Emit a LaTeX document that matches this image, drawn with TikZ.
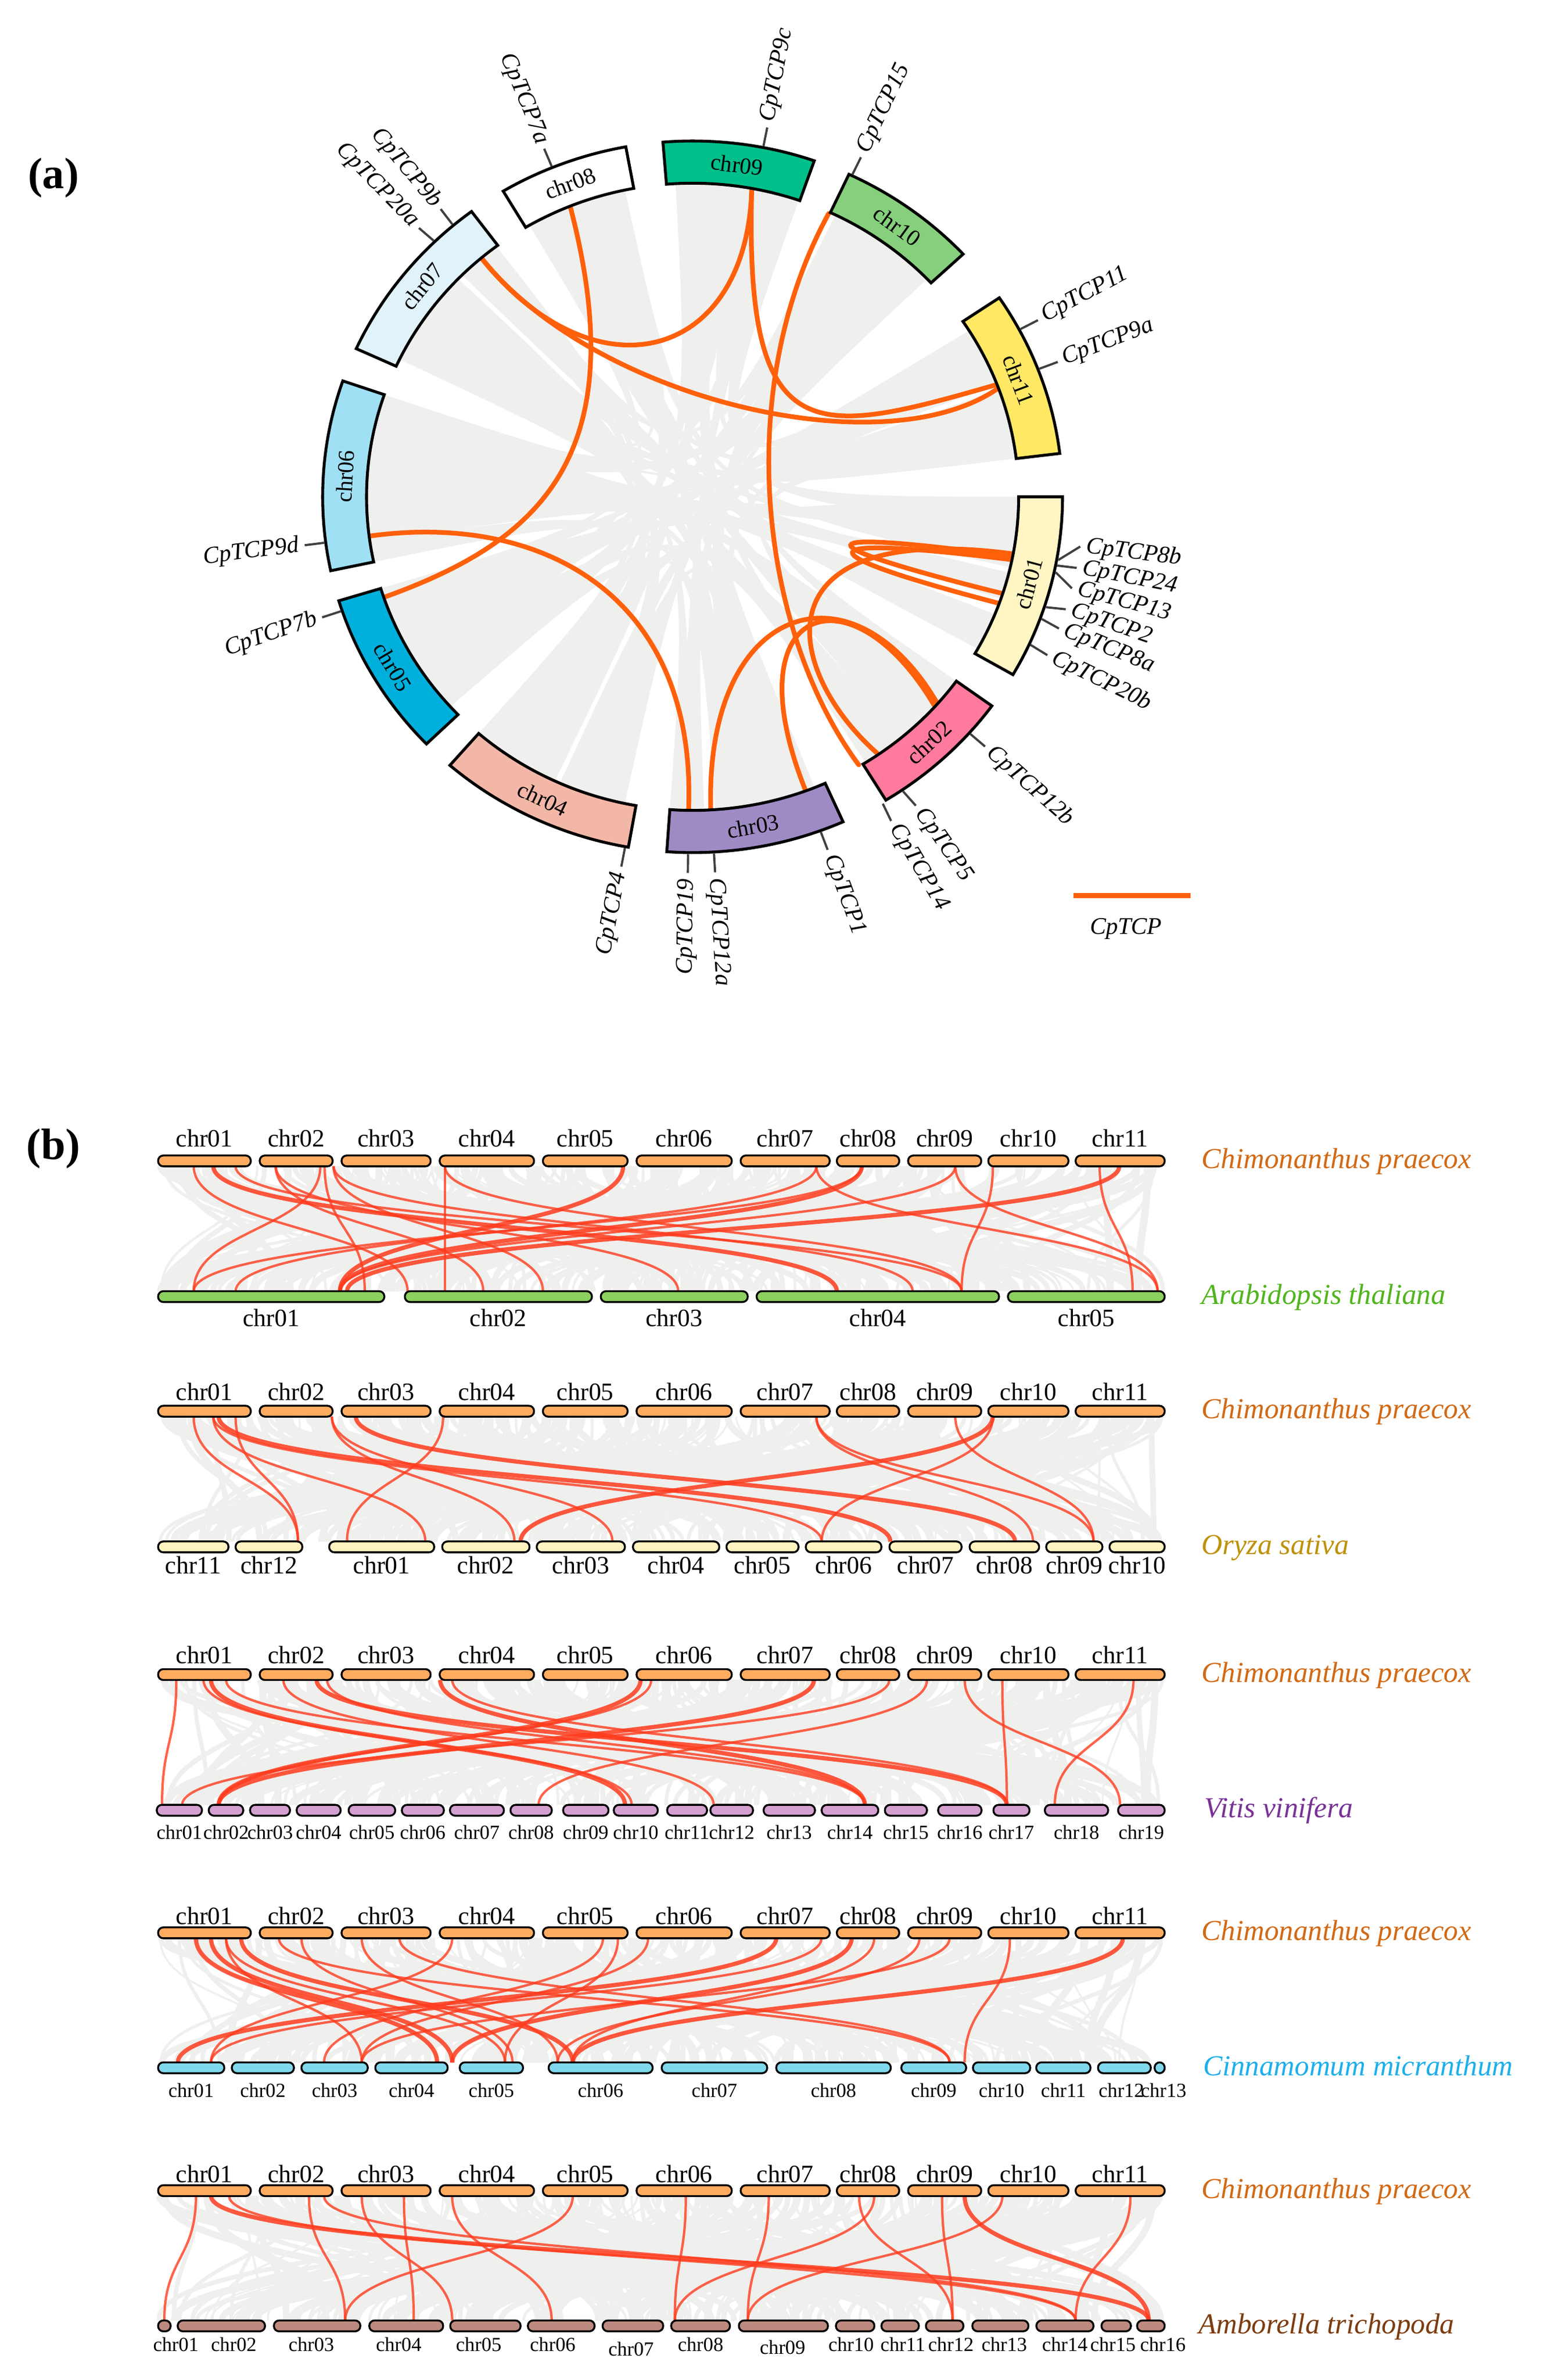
\documentclass[tikz,border=0pt]{standalone}
\usepackage{fontspec}
\setmainfont{Liberation Serif}
\definecolor{c01}{RGB}{255,246,196}
\definecolor{c02}{RGB}{255,122,156}
\definecolor{c03}{RGB}{158,139,196}
\definecolor{c04}{RGB}{243,183,168}
\definecolor{c05}{RGB}{0,176,220}
\definecolor{c06}{RGB}{160,224,244}
\definecolor{c07}{RGB}{224,242,250}
\definecolor{c08}{RGB}{255,255,255}
\definecolor{c09}{RGB}{0,191,138}
\definecolor{c10}{RGB}{134,207,124}
\definecolor{c11}{RGB}{255,232,100}
\definecolor{linkc}{RGB}{255,96,10}
\definecolor{ribc}{RGB}{239,239,237}
\definecolor{tickc}{RGB}{64,64,64}
\definecolor{redc}{RGB}{255,60,30}
\definecolor{cpbar}{RGB}{255,172,96}
\definecolor{atbar}{RGB}{140,208,96}
\definecolor{osbar}{RGB}{255,243,192}
\definecolor{vvbar}{RGB}{212,160,208}
\definecolor{cmbar}{RGB}{128,216,236}
\definecolor{ambar}{RGB}{188,138,126}
\definecolor{cptext}{RGB}{210,105,20}
\definecolor{attext}{RGB}{80,180,30}
\definecolor{ostext}{RGB}{190,145,10}
\definecolor{vvtext}{RGB}{120,50,150}
\definecolor{cmtext}{RGB}{30,175,235}
\definecolor{amtext}{RGB}{125,60,15}
\tikzset{
 chrbox/.style={draw=black, line width=1.45pt},
 chrlab/.style={font=\fontsize{11.5}{13}\selectfont, inner sep=0pt},
 genelab/.style={font=\fontsize{12}{14}\selectfont\itshape, inner sep=0.5pt},
 tickl/.style={draw=tickc, line width=1.1pt},
 link/.style={draw=linkc, line width=2.35pt, line cap=round},
 panlab/.style={font=\fontsize{22}{26}\selectfont\bfseries, inner sep=0pt},
 barst/.style={draw=black, line width=0.95pt, rounded corners=2.6pt},
 toplab/.style={font=\fontsize{12.5}{14}\selectfont, inner sep=0pt},
 smalllab/.style={font=\fontsize{10}{12}\selectfont, inner sep=0pt},
 spec/.style={font=\fontsize{14.5}{17}\selectfont\itshape, anchor=base west, inner sep=0pt},
 redl/.style={draw=redc, line width=1.2pt, opacity=0.8},
 redt/.style={draw=redc, line width=2.1pt, opacity=0.85},
}
\newcommand\crib[4]{\fill[ribc] ({90-(#1)}:208) .. controls (0,0) .. ({90-(#4)}:208) arc[start angle={90-(#4)}, end angle={90-(#3)}, radius=208] .. controls (0,0) .. ({90-(#2)}:208) arc[start angle={90-(#2)}, end angle={90-(#1)}, radius=208] -- cycle;}
\newcommand\syn[5]{\draw[#5] (#1,#3) .. controls (#1,{(#3+#4)/2}) and (#2,{(#3+#4)/2}) .. (#2,#4);}
\newcommand\mesh[3]{\foreach \k in {1,...,#3}{
  \pgfmathsetmacro\xa{105+667*rnd}
  \pgfmathsetmacro\xb{105+667*rnd}
  \pgfmathsetmacro\lw{0.8+3.0*rnd}
  \draw[draw=ribc, line width=\lw pt] (\xa,#1) .. controls (\xa,{(#1+#2)/2}) and (\xb,{(#1+#2)/2}) .. (\xb,#2);}}
\newcommand\cprow[3]{\foreach \xa/\xb/\nm in {104.9/166.4/chr01, 172.3/220.7/chr02, 226.6/285.7/chr03, 291.7/354.3/chr04, 360.2/416.4/chr05, 422.3/485.5/chr06, 491.4/550.5/chr07, 555.2/596.6/chr08, 602.5/651/chr09, 655.7/708.9/chr10, 713.6/772.7/chr11}{
  \draw[barst, fill=cpbar] (\xa,{#1-3.6}) rectangle (\xb,{#1+3.6});
  \node[toplab] (#3\nm) at ({(\xa+\xb)/2},#2) {\nm};}}
\newcommand\botrow[6]{\foreach \xa/\xb/\lx/\ly/\nm in {#6}{
  \draw[barst, fill=#3] (\xa,{#1-3.6}) rectangle (\xb,{#1+3.6});
  \node[#4] (#5\nm) at (\lx,{#2+\ly}) {\nm};}}
\begin{document}
\begin{tikzpicture}[x=0.26523mm,y=-0.26523mm]
\pgfmathsetseed{11}
\useasboundingbox (0,0) rectangle (1024,1578.6);
\fill[white] (0,0) rectangle (1024,1578.6);
\node[panlab] (pa) at (35.5,118) {(a)};
\node[panlab] (pb) at (35.5,762) {(b)};

% ---------- circos: ribbons and link ends
\begin{scope}[shift={(459.5,329.5)},yscale=-1,xscale=1.04]
\foreach \ua/\ub/\uc/\ud in {262/270/95/100, 275/283/112/118, 300/306/160/166, 308/314/195/201, 340/345/170/176, 332/336/135/140, 0/5/205/211, 12/16/178/182, 28/33/230/236, 38/44/280/286, 58/64/240/246, 70/76/265/270, 78/82/300/304, 92/95/212/218, 114/119/315/321, 128/133/272/276, 142/147/296/300, 158/162/2/6, 165/169/33/37, 192/196/40/45, 200/204/60/66, 214/219/343/348, 247/252/104/108, 228/232/-3/1, 285/288/14/18, 318/322/26/30, 330/334/72/76, 235/240/140/145, 258/262/172/176, 310/313/98/101, 337/341/116/119, 6/10/238/242, 44/46/178/183, 65/69/162/166, 90/93/16/19, 126/129/30/33, 181/184/305/309, 218/221/320/323, 250/253/330/333, 288/289/80/83, 270/274/76/80, 280/285/130/134, 303/307/205/209, 316/320/240/244, 335/339/160/163, 344/348/100/103, 2/6/145/148, 14/18/92/95, 30/34/168/172, 40/44/250/253, 60/64/200/204, 74/78/132/136, 95/99/262/266, 105/109/300/304, 136/140/330/334, 160/164/276/280, 170/174/228/232, 195/199/280/284, 208/212/310/314, 230/234/-2/2, 243/247/36/40, 145/148/196/200, 297/301/340/344, 8/12/60/64}{\crib{\ua}{\ub}{\uc}{\ud}}
\coordinate (e07) at ({90-319.6}:207);
\coordinate (e08) at ({90-337.9}:207);
\coordinate (e09) at ({90-10.5}:207);
\coordinate (e10) at ({90-24.8}:207);
\coordinate (e11a) at ({90-69}:207);
\coordinate (e11b) at ({90-69.8}:207);
\coordinate (e01a) at ({90-100.5}:207);
\coordinate (e01b) at ({90-101}:207);
\coordinate (e01c) at ({90-101.6}:207);
\coordinate (e01d) at ({90-108}:207);
\coordinate (e01e) at ({90-109.9}:207);
\coordinate (e02a) at ({90-131.2}:207);
\coordinate (e02a2) at ({90-131.9}:207);
\coordinate (e02b) at ({90-145.3}:207);
\coordinate (e02c) at ({90-149.2}:207);
\coordinate (e03a) at ({90-180.7}:207);
\coordinate (e03b) at ({90-176.8}:207);
\coordinate (e03c) at ({90-159.7}:207);
\coordinate (e05) at ({90-251.3}:207);
\coordinate (e06) at ({90-262.8}:207);
\end{scope}

% ---------- circos links
\draw[link] (e07) .. controls (395,265) and (495,240) .. (e09);
\draw[link] (e07) .. controls (395,265) and (585,310) .. (e11b);
\draw[link] (e09) .. controls (494,300) and (540,290) .. (e11a);
\draw[link] (e08) .. controls (422,305) and (355,360) .. (e05);
\draw[link] (e06) .. controls (360,340) and (462,395) .. (e03a);
\draw[link] (e10) .. controls (485,260) and (505,420) .. (e02c);
\draw[link] (e01a) .. controls (500,345) and (520,445) .. (e02b);
\draw[link] (e01b) .. controls (530,350) and (530,360) .. (e01d);
\draw[link] (e01c) .. controls (532,354) and (532,366) .. (e01e);
\draw[link] (e03b) .. controls (468,400) and (565,370) .. (e02a);
\draw[link] (e03c) .. controls (485,400) and (565,375) .. (e02a2);

% ---------- circos chromosomes and labels
\begin{scope}[shift={(459.5,329.5)},yscale=-1,xscale=1.04]
\foreach \ta/\tb/\cc/\nm/\rot in {-4.6/19.2/c09/chr09/-7.3, 25/47/c10/chr10/-36, 56/83/c11/chr11/-69.5, 90/120/c01/chr01/75, 126/148.5/c02/chr02/42.75, 156/184/c03/chr03/10, 190/221/c04/chr04/-25.5, 226/253/c05/chr05/-59.5, 258/289/c06/chr06/86.5, 294.6/323.3/c07/chr07/51, 329.2/349.6/c08/chr08/20.6}{
  \draw[chrbox, fill=\cc] ({90-(\ta)}:236) arc[start angle={90-(\ta)}, end angle={90-(\tb)}, radius=236] -- ({90-(\tb)}:208) arc[start angle={90-(\tb)}, end angle={90-(\ta)}, radius=208] -- cycle;
  \node[chrlab, rotate=\rot] (cl-\nm) at ({90-(\ta+\tb)/2}:222) {\nm};
}
\foreach \ta/\tb/\rot/\anc/\txt in {337.7/337.7/-67.7/east/CpTCP7a, 11/11/79/west/CpTCP9c, 25.5/25.5/64.5/west/CpTCP15, 62/62/28/west/CpTCP11, 69/69/21/west/CpTCP9a, 100.2/97.6/-7/west/CpTCP8b, 101.1/100.9/-11/west/CpTCP24, 102.2/104.1/-15/west/CpTCP13, 108/107.4/-19/west/CpTCP2, 110/110.5/-22.5/west/CpTCP8a, 114.5/114.9/-26/west/CpTCP20b, 131.6/131.6/-41.6/west/CpTCP12b, 145.5/145.2/-55/west/CpTCP5, 149.2/149.5/-59.5/west/CpTCP14, 159.8/159.8/-69.8/west/CpTCP1, 176.7/176.7/-86.7/west/CpTCP12a, 180.7/180.7/89.3/east/CpTCP19, 190.5/190.5/79.5/east/CpTCP4, 251.3/251.3/18.7/east/CpTCP7b, 262.6/262.6/7.4/east/CpTCP9d, 315.8/315.6/-45.6/east/CpTCP20a, 319.7/319.9/-49.9/east/CpTCP9b}{
  \draw[tickl] ({90-(\ta)}:237) -- ({90-(\tb)}:249.5);
  \node[genelab, rotate=\rot, anchor=\anc] (gl-\txt) at ({90-(\tb)}:252.5) {\txt};
}
\end{scope}

% legend
\coordinate (lg1) at (712,594);
\coordinate (lg2) at (790,594);
\draw[link, line cap=butt] (lg1) -- (lg2);
\node[genelab] (lgt) at (747,616) {CpTCP};

% ---------- panel b
% row 1
\mesh{773.5}{856.5}{260}
\foreach \ua/\ub/\us in {128.5/270.4/redl, 141.5/555.2/redt, 156.3/638/redl, 182.9/450/redl, 212.5/128.5/redl, 215.4/242/redl, 221.3/605.5/redl, 221.3/360.2/redl, 295.2/295.2/redl, 295.2/638/redl, 413.4/225.5/redt, 541.6/156.3/redl, 541.6/768/redl, 571.8/128.5/redl, 571.8/225.5/redt, 633.8/225.5/redl, 633.8/768/redl, 658.7/638/redl, 742.6/230.2/redt, 729.6/751.4/redl, 182.9/320.6/redl}{\syn{\ua}{\ub}{773.5}{856.5}{\us}}
\cprow{770}{755}{r1}
\botrow{860}{874}{atbar}{toplab}{r1b}{104.9/255/180/0/chr01, 268.6/392.7/330.6/0/chr02, 398.6/496.1/447.3/0/chr03, 502/662.8/582.4/0/chr04, 668.7/772.7/720.7/0/chr05}
\node[spec, text=cptext] (sp1a) at (797,775) {Chimonanthus praecox};
\node[spec, text=attext] (sp1b) at (797,865) {Arabidopsis thaliana};

% row 2
\mesh{939.5}{1022.5}{260}
\foreach \ua/\ub/\us in {128.5/197.7/redl, 156.3/197.7/redl, 141.5/282.2/redl, 141.5/545.2/redl, 145/590.7/redt, 220.2/341.3/redl, 220.2/406.3/redl, 236.1/673.4/redt, 294/230.2/redl, 541.6/685.3/redl, 541.6/725.5/redl, 633.8/725.5/redl, 658.7/345.4/redt, 658.7/545.2/redl}{\syn{\ua}{\ub}{939.5}{1022.5}{\us}}
\cprow{936}{923}{r2}
\botrow{1026}{1038}{osbar}{toplab}{r2b}{104.9/151.6/128.2/0/chr11, 156.3/200.6/178.5/0/chr12, 218.4/288.1/253.2/0/chr01, 293.4/351.3/322.3/0/chr02, 356.1/414.6/385.3/0/chr03, 419.9/477.2/448.5/0/chr04, 482/529.8/505.9/0/chr05, 534.6/584.8/559.7/0/chr06, 590.1/638/614/0/chr07, 643.3/689.4/666.3/0/chr08, 694.1/731.4/712.7/0/chr09, 736.1/772.7/754.4/0/chr10}
\node[spec, text=cptext] (sp2a) at (797,941) {Chimonanthus praecox};
\node[spec, text=ostext] (sp2b) at (797,1031) {Oryza sativa};

% row 3
\mesh{1114.2}{1197.2}{260}
\foreach \ua/\ub/\us in {117/107.5/redl, 135/419.1/redl, 140/414.7/redt, 150/573.8/redl, 188/473.5/redl, 210/668/redt, 217/573.8/redl, 292/573.8/redt, 300/668/redl, 425/145.1/redt, 432/145.1/redl, 540/145.1/redt, 590/120.8/redl, 615/357.3/redl, 640/743.1/redl, 665/668/redl, 752/699.8/redl}{\syn{\ua}{\ub}{1114.2}{1197.2}{\us}}
\cprow{1110.7}{1097.6}{r3}
\botrow{1200.7}{1215.5}{vvbar}{smalllab}{r3b}{104/134/119/0/chr01, 138.5/161.4/150/0/chr02, 165.9/192.4/179.2/0/chr03, 196.8/226/211.4/0/chr04, 231.3/262.2/246.7/0/chr05, 266.6/294.5/280.5/0/chr06, 298.5/334.3/316.4/0/chr07, 338.7/366.1/352.4/0/chr08, 373.6/403.7/388.6/0/chr09, 407.2/436.4/421.8/0/chr10, 442.6/469.1/455.8/0/chr11, 471.3/499.6/485.5/0/chr12, 506.6/540.7/523.6/0/chr13, 545.1/582.7/563.9/0/chr14, 587.1/615/601/0/chr15, 622.4/651.2/636.8/0/chr16, 659.1/683/671/0/chr17, 693.2/735.2/714.2/0/chr18, 741.8/772.7/757.2/0/chr19}
\node[spec, text=cptext] (sp3a) at (797,1115.7) {Chimonanthus praecox};
\node[spec, text=vvtext] (sp3b) at (799,1205.7) {Vitis vinifera};

% row 4
\mesh{1285.5}{1368}{260}
\foreach \ua/\ub/\us in {130/290/redt, 140/300/redt, 150/335/redl, 150/240/redl, 160/380/redt, 185/630/redl, 200/340/redl, 240/370/redl, 265/630/redl, 300/140/redl, 400/215/redl, 410/335/redl, 430/240/redl, 515/118/redt, 545/140/redl, 565/300/redt, 580/380/redl, 610/370/redl, 630/240/redl, 670/640/redl, 745/380/redt}{\syn{\ua}{\ub}{1285.5}{1368}{\us}}
\cprow{1282}{1270.8}{r4}
\botrow{1371.5}{1386.6}{cmbar}{smalllab}{r4b}{104.9/148.8/126.8/0/chr01, 153.8/195/174.4/0/chr02, 200/244/222/0/chr03, 249/297/273/0/chr04, 305/347/326/0/chr05, 364/433/398.5/0/chr06, 439/509/474/0/chr07, 515/591/553/0/chr08, 598/641/619.5/0/chr09, 645.5/683.5/664.5/0/chr10, 687.5/723.5/705.5/0/chr11, 728.5/763.5/744/0/chr12, 766/772.7/772/0/chr13}
\node[spec, text=cptext] (sp4a) at (797,1287) {Chimonanthus praecox};
\node[spec, text=cmtext] (sp4b) at (798,1376.5) {Cinnamomum micranthum};

% row 5
\mesh{1456.5}{1539.2}{260}
\foreach \ua/\ub/\us in {130/109/redl, 140/762.1/redt, 152/713.6/redl, 205/229/redl, 215/713.6/redl, 240/300/redl, 268/274.5/redl, 300/366/redl, 380/229/redl, 455/447.7/redl, 510/496.1/redl, 570/632/redl, 580/447.7/redl, 625/632/redl, 640/762.1/redt, 665/496.1/redl, 750/713.6/redl}{\syn{\ua}{\ub}{1456.5}{1539.2}{\us}}
\cprow{1453}{1442}{r5}
\botrow{1542.7}{1555}{ambar}{smalllab}{r5b}{104.9/113.2/116.7/0/chr01, 117.9/175.8/155.1/0/chr02, 181.7/239.1/206.6/0/chr03, 245/294/264.5/0/chr04, 298.7/345.4/317.6/0/chr05, 350.2/394.5/366.7/0/chr06, 399.8/440/418.7/3/chr07, 445.3/484.3/464.8/0/chr08, 490.2/549.3/519.2/2/chr09, 554.6/580.1/564.7/0/chr10, 584.8/609.6/599/0/chr11, 614.3/639.2/630.9/0/chr12, 645.1/682.3/666.3/0/chr13, 687.6/725.5/706.5/0/chr14, 730.8/750.3/738.4/0/chr15, 754.4/772.7/771.5/0/chr16}
\node[spec, text=cptext] (sp5a) at (797,1458) {Chimonanthus praecox};
\node[spec, text=amtext] (sp5b) at (795,1547.7) {Amborella trichopoda};
\end{tikzpicture}
\end{document}
